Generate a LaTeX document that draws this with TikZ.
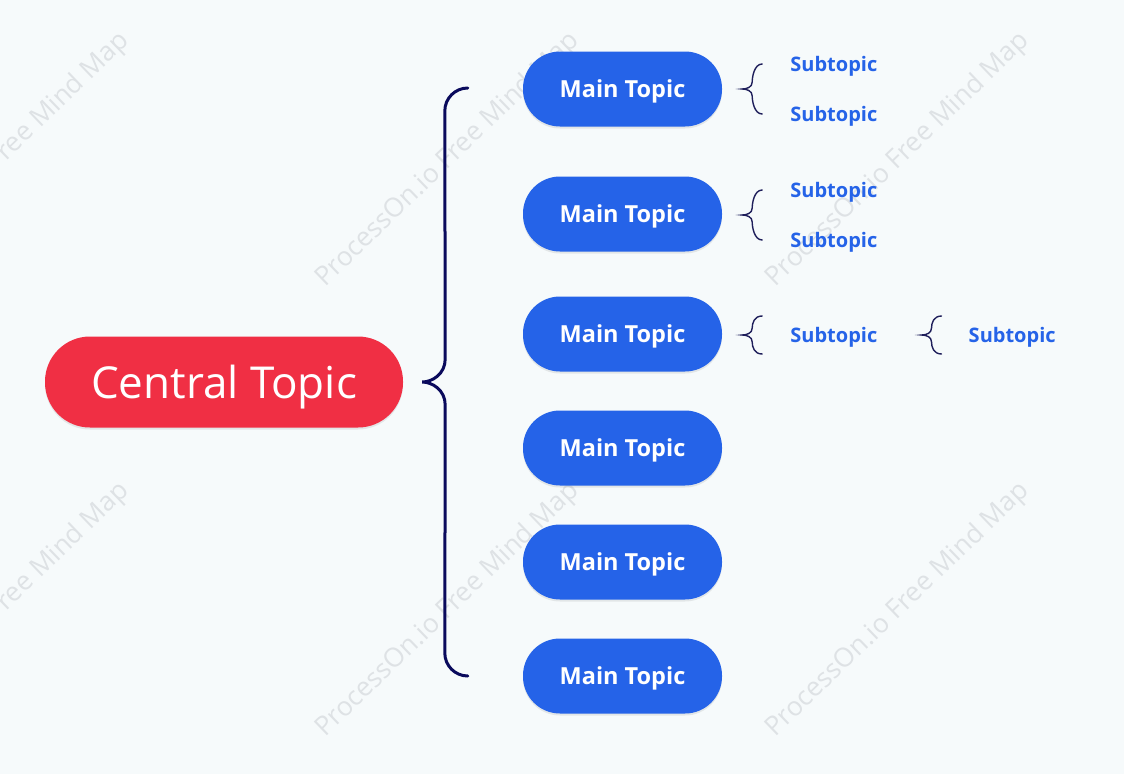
\documentclass[tikz,border=0pt]{standalone}
\usepackage{fontspec}
\setmainfont{Open Sans}
\usepackage{tikz}
\usetikzlibrary{positioning, calc, shadows}
\definecolor{pagebg}{RGB}{246,250,251}
\definecolor{topicred}{RGB}{240,47,68}
\definecolor{topicblue}{RGB}{37,99,232}
\definecolor{bracenavy}{RGB}{10,10,92}
\definecolor{subnavy}{RGB}{30,30,90}
\definecolor{wmgray}{RGB}{222,226,229}

% small curly brace between two end points
\newcommand{\subbrace}[2]{%
  \coordinate (bm) at ($(#1)!0.5!(#2)$);
  \draw[subline] (#1) .. controls +(-8,0) and +(0,-5) .. ($(bm)+(-10,-7)$)
    .. controls +(0,5) and +(5,0) .. ($(bm)+(-20,0)$)
    .. controls +(5,0) and +(0,-5) .. ($(bm)+(-10,7)$)
    .. controls +(0,5) and +(-8,0) .. (#2);}

\begin{document}
\begin{tikzpicture}[
    x=1pt, y=-1pt,
    central/.style={rectangle, rounded corners=45pt, fill=topicred,
                    minimum width=358pt, minimum height=91pt, text depth=0pt,
                    text=white, font=\fontsize{44}{52}\selectfont,
                    drop shadow={shadow xshift=0pt, shadow yshift=-2pt,
                                 opacity=0.08, fill=black}},
    main/.style={rectangle, rounded corners=37pt, fill=topicblue,
                 minimum width=199pt, minimum height=75pt, text depth=0pt,
                 text=white, font=\fontsize{23.5}{28}\selectfont\bfseries,
                 drop shadow={shadow xshift=0pt, shadow yshift=-2pt,
                              opacity=0.08, fill=black}},
    sub/.style={inner sep=0pt, anchor=west, text depth=0pt, text=topicblue,
                font=\fontsize{20}{24}\selectfont\bfseries},
    bigline/.style={draw=bracenavy, line width=3pt, line cap=round},
    subline/.style={draw=subnavy, line width=1.4pt, line cap=round},
    watermark/.style={text=wmgray, rotate=44, font=\fontsize{26.5}{30}\selectfont}
]
\useasboundingbox[fill=pagebg] (0,0) rectangle (1124,774);

% watermarks
\foreach \wx in {-2,448,898}
  \foreach \wy in {160,610}
    \node[watermark] at (\wx,\wy) {ProcessOn.io Free Mind Map};

% topics
\node[central] (central) at (224,382) {Central Topic};
\node[main] (mt1) at (622.5,89) {Main Topic};
\node[main] (mt2) at (622.5,214) {Main Topic};
\node[main] (mt3) at (622.5,334) {Main Topic};
\node[main] (mt4) at (622.5,448) {Main Topic};
\node[main] (mt5) at (622.5,562) {Main Topic};
\node[main] (mt6) at (622.5,676) {Main Topic};

% subtopics
\node[sub] (st1a) at ([xshift=68pt,yshift=25pt]mt1.east) {Subtopic};
\node[sub] (st1b) at ([xshift=68pt,yshift=-25pt]mt1.east) {Subtopic};
\node[sub] (st2a) at ([xshift=68pt,yshift=24pt]mt2.east) {Subtopic};
\node[sub] (st2b) at ([xshift=68pt,yshift=-26pt]mt2.east) {Subtopic};
\node[sub] (st3a) at ([xshift=68pt,yshift=-1pt]mt3.east) {Subtopic};
\node[sub, right=91pt of st3a] (st3b) {Subtopic};

% big brace
\coordinate (tip) at ([xshift=19pt]central.east);
\coordinate (btop) at ([xshift=-55pt,yshift=1pt]mt1.west);
\coordinate (bbot) at ([xshift=-55pt]mt6.west);
\draw[bigline] (btop) arc[start angle=90, end angle=180, radius=23pt]
  -- ([xshift=23pt,yshift=23pt]tip)
  .. controls ([xshift=23pt,yshift=8pt]tip) and ([xshift=10pt]tip) .. (tip)
  .. controls ([xshift=10pt]tip) and ([xshift=23pt,yshift=-8pt]tip) .. ([xshift=23pt,yshift=-23pt]tip)
  -- ([xshift=-23pt,yshift=23pt]bbot)
  arc[start angle=180, end angle=270, radius=23pt];

% small braces
\subbrace{$(st1a.west)+(-28,0)$}{$(st1b.west)+(-28,0)$}
\subbrace{$(st2a.west)+(-28,0)$}{$(st2b.west)+(-28,0)$}
\subbrace{$(st3a.west)+(-28,-19)$}{$(st3a.west)+(-28,19)$}
\subbrace{$(st3b.west)+(-27,-19)$}{$(st3b.west)+(-27,19)$}
\end{tikzpicture}
\end{document}
